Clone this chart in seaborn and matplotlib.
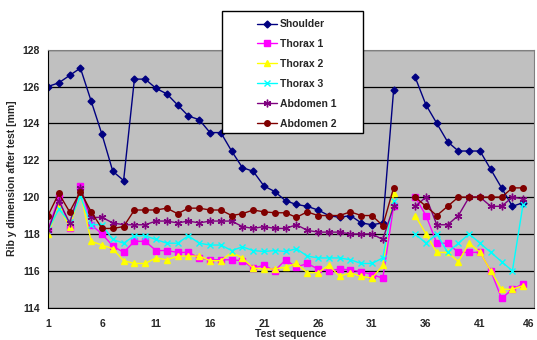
import seaborn as sns
import matplotlib.pyplot as plt
from matplotlib.patches import Rectangle
import numpy as np
import pandas as pd

sns.set_style('white')
plt.rcParams['font.family'] = ['Liberation Sans', 'DejaVu Sans']
plt.rcParams['font.weight'] = 'bold'

# test sequence 1..45, no test at 34
tests = [i for i in range(1, 46) if i != 34]

shoulder = [126.0, 126.2, 126.6, 127.0, 125.2, 123.4, 121.4, 120.9, 126.4, 126.4,
            125.9, 125.6, 125.0, 124.4, 124.2, 123.5, 123.5, 122.5, 121.6, 121.4,
            120.6, 120.3, 119.8, 119.6, 119.5, 119.3, 119.0, 118.9, 119.0, 118.6,
            118.5, 118.6, 125.8,
            126.5, 125.0, 124.0, 123.0, 122.5, 122.5, 122.5, 121.5, 120.5, 119.5, 119.7]
thorax1 = [118.2, 120.0, 118.3, 120.6, 118.5, 118.0, 117.35, 117.0, 117.6, 117.6,
           117.1, 117.1, 117.0, 117.0, 116.7, 116.6, 116.6, 116.6, 116.55, 116.15,
           116.3, 116.0, 116.6, 116.2, 116.4, 116.1, 116.0, 116.1, 116.05, 115.95,
           115.8, 115.6, 119.5,
           120.0, 119.0, 117.5, 117.5, 117.0, 117.0, 117.0, 116.0, 114.5, 115.0, 115.3]
thorax2 = [118.0, 119.5, 118.4, 120.2, 117.6, 117.4, 117.2, 116.55, 116.4, 116.4,
           116.7, 116.6, 116.8, 116.8, 116.8, 116.55, 116.55, 117.0, 116.7, 116.15,
           116.1, 116.1, 116.2, 116.4, 115.9, 115.9, 116.3, 115.7, 115.9, 115.7,
           115.6, 116.3, 120.2,
           119.0, 118.0, 117.0, 117.0, 116.5, 117.5, 117.0, 116.0, 115.0, 115.0, 115.2]
thorax3 = [118.2, 119.35, 118.65, 120.05, 118.5, 118.5, 117.7, 117.5, 117.9, 117.9,
           117.7, 117.5, 117.5, 117.9, 117.5, 117.4, 117.4, 117.1, 117.3, 117.1,
           117.05, 117.1, 117.05, 117.2, 116.8, 116.7, 116.7, 116.7, 116.6, 116.4,
           116.4, 116.7, 119.8,
           118.0, 117.5, 118.0, 117.0, 117.5, 118.0, 117.5, 117.0, 116.5, 116.0, 119.65]
abdomen1 = [118.2, 119.8, 118.6, 120.5, 118.9, 118.9, 118.6, 118.5, 118.5, 118.5,
            118.7, 118.7, 118.6, 118.7, 118.6, 118.7, 118.7, 118.7, 118.4, 118.3,
            118.4, 118.3, 118.3, 118.5, 118.2, 118.1, 118.1, 118.1, 118.0, 118.0,
            118.0, 117.7, 119.5,
            119.5, 120.0, 118.5, 118.5, 119.0, 120.0, 120.0, 119.5, 119.5, 120.0, 119.9]
abdomen2 = [119.0, 120.2, 119.2, 120.3, 119.2, 118.3, 118.3, 118.4, 119.3, 119.3,
            119.3, 119.4, 119.1, 119.4, 119.4, 119.3, 119.3, 119.0, 119.1, 119.3,
            119.2, 119.15, 119.15, 118.9, 119.2, 119.0, 119.0, 119.0, 119.2, 119.0,
            119.0, 118.45, 120.5,
            120.0, 119.5, 119.0, 119.5, 120.0, 120.0, 120.0, 120.0, 120.0, 120.5, 120.5]

names = ['Shoulder', 'Thorax 1', 'Thorax 2', 'Thorax 3', 'Abdomen 1', 'Abdomen 2']
values = [shoulder, thorax1, thorax2, thorax3, abdomen1, abdomen2]
colors = ['#000080', '#FF00FF', '#FFFF00', '#00FFFF', '#800080', '#800000']
markers = ['D', 's', '^', 'x', (6, 2, 0), 'o']
msizes = [3.5, 4, 4.5, 4.5, 5.5, 4]

rows = []
for n, v in zip(names, values):
    for t, y in zip(tests, v):
        rows.append({'test': t, 'dim': y, 'series': n, 'seg': 0 if t < 34 else 1})
df = pd.DataFrame(rows)

fig = plt.figure(figsize=(5.37, 3.4), dpi=100)
ax = fig.add_axes([0.0894, 0.095, 0.905, 0.759])
ax.set_facecolor('#C0C0C0')

for n, c, m, s in zip(names, colors, markers, msizes):
    sns.lineplot(data=df[df.series == n], x='test', y='dim', units='seg', estimator=None,
                 color=c, marker=m, markersize=s, markeredgecolor=c, markeredgewidth=1,
                 linewidth=1, ax=ax, label=n, legend=False)

ax.set_xlim(1, 46)
ax.set_ylim(114, 128)
ax.set_xticks(np.arange(1, 47, 5))
ax.set_yticks(np.arange(114, 129, 2))
ax.yaxis.grid(True, color='black', linewidth=0.9)
ax.set_axisbelow(True)
ax.tick_params(axis='both', labelsize=7.5, length=3, width=0.8, direction='out',
               color='black', pad=3)
for lab in ax.get_xticklabels() + ax.get_yticklabels():
    lab.set_fontweight('bold')
ax.get_xticklabels()[-1].set_horizontalalignment('right')
ax.tick_params(axis='x', pad=5)
ax.spines['left'].set_color('black')
ax.spines['bottom'].set_color('black')
ax.spines['top'].set_color('#808080')
ax.spines['right'].set_color('#808080')
ax.set_xlabel('Test sequence', fontsize=7.5, fontweight='bold', labelpad=0)
ax.set_ylabel('Rib y dimension after test [mm]', fontsize=7.5, fontweight='bold', labelpad=4)

# legend box drawn in figure coords, entries placed inside
fig.patches.append(Rectangle((222 / 537, 1 - 133 / 340), 141 / 537, 122 / 340,
                             transform=fig.transFigure, facecolor='white',
                             edgecolor='black', linewidth=1, zorder=5))
handles, labels = ax.get_legend_handles_labels()
uniq = dict(zip(labels, handles))
leg = fig.legend([uniq[n] for n in names], names, loc='upper left',
                 bbox_to_anchor=(252 / 537, 1 - 14 / 340),
                 frameon=False, fontsize=7.5, handlelength=1.9, handletextpad=0.3,
                 labelspacing=0.95, borderpad=0)
for t in leg.get_texts():
    t.set_fontweight('bold')
leg.set_zorder(6)

fig.savefig('out.png', dpi=100)
